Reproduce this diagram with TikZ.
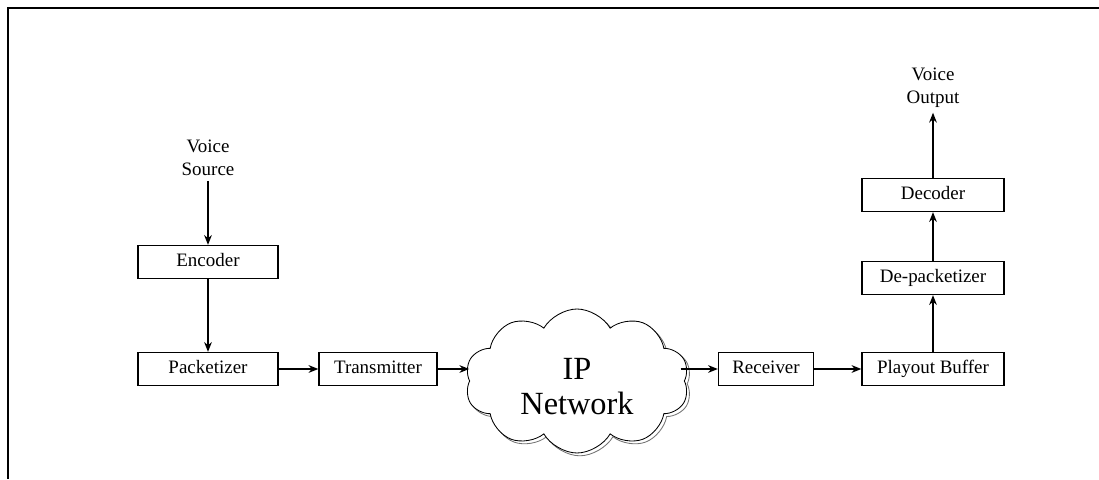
\documentclass[tikz,border=0pt]{standalone}
\usepackage{fontspec}
\setmainfont{Liberation Serif}
\usepackage{tikz}
\usetikzlibrary{shapes.geometric, shapes.symbols, arrows, arrows.meta, positioning, shadows}
\tikzstyle{process} = [rectangle, draw, line width=0.9pt, text centered,
                       minimum height=0.825cm, text height=0.68em, text depth=0pt,
                       font=\fontsize{13.5}{16}\selectfont]
\tikzstyle{voicetext} = [align=center, font=\fontsize{13.5}{16.3}\selectfont]
\tikzstyle{network} = [cloud, draw, line width=0.6pt, fill=white, cloud puffs=10,
                       cloud puff arc=120, aspect=1.6, minimum width=5.6cm,
                       minimum height=3.6cm,
                       font=\fontsize{23}{25}\selectfont,
                       copy shadow={shadow xshift=2pt, shadow yshift=-2pt,
                                    draw=black!55, fill=white, opacity=1}]
\tikzstyle{arrow} = [line width=0.9pt,->,>={Stealth[length=7pt,width=5.5pt]}]

\begin{document}
\begin{tikzpicture}[node distance = 2.675cm]
\useasboundingbox (0,0) rectangle (27.475,-11.975);
% frame
\draw [line width=1.6pt] (27.475,-0.2) -- (0.2,-0.2) -- (0.2,-11.975);
% sender side
\node [process, minimum width=3.5cm] at (5.2,-9.225) (packetizer) {Packetizer};
\node [process, minimum width=3.5cm, above of=packetizer] (encoder) {Encoder};
\node [voicetext, above of=encoder, yshift=-0.075cm] (voice_source)
	{Voice\\Source};
\node [process, minimum width=2.95cm, right of=packetizer, xshift=1.575cm]
	(transmitter) {Transmitter};
% network
\node [network, right of=transmitter, xshift=2.3cm, yshift=-0.3cm] (ip_net)
	{\raisebox{-0.22cm}[\height][\depth]{%
	\begin{tabular}{@{}c@{}}IP\\Network\end{tabular}}};
% receiver side
\node [process, minimum width=2.375cm, right of=transmitter, xshift=7.025cm]
	(receiver) {Receiver};
\node [process, minimum width=3.55cm, right of=receiver, xshift=1.5cm]
	(playout_buffer) {Playout Buffer};
\node [process, minimum width=3.55cm, above of=playout_buffer, yshift=-0.4cm]
	(depacketizer) {De-packetizer};
\node [process, minimum width=3.55cm, above of=depacketizer, yshift=-0.6cm]
	(decoder) {Decoder};
\node [voicetext, above of=decoder] (voice_output) {Voice\\Output};
\draw [arrow] (voice_source) -- (encoder);
\draw [arrow] (encoder) -- (packetizer);
\draw [arrow] (packetizer) -- (transmitter);
\draw [arrow] (transmitter) -- (transmitter -| ip_net.west);
\draw [arrow] ([xshift=-3pt]ip_net.east |- receiver) -- (receiver);
\draw [arrow] (receiver) -- (playout_buffer);
\draw [arrow] (playout_buffer) -- (depacketizer);
\draw [arrow] (depacketizer) -- (decoder);
\draw [arrow] (decoder) -- (voice_output);
\end{tikzpicture}
\end{document}
